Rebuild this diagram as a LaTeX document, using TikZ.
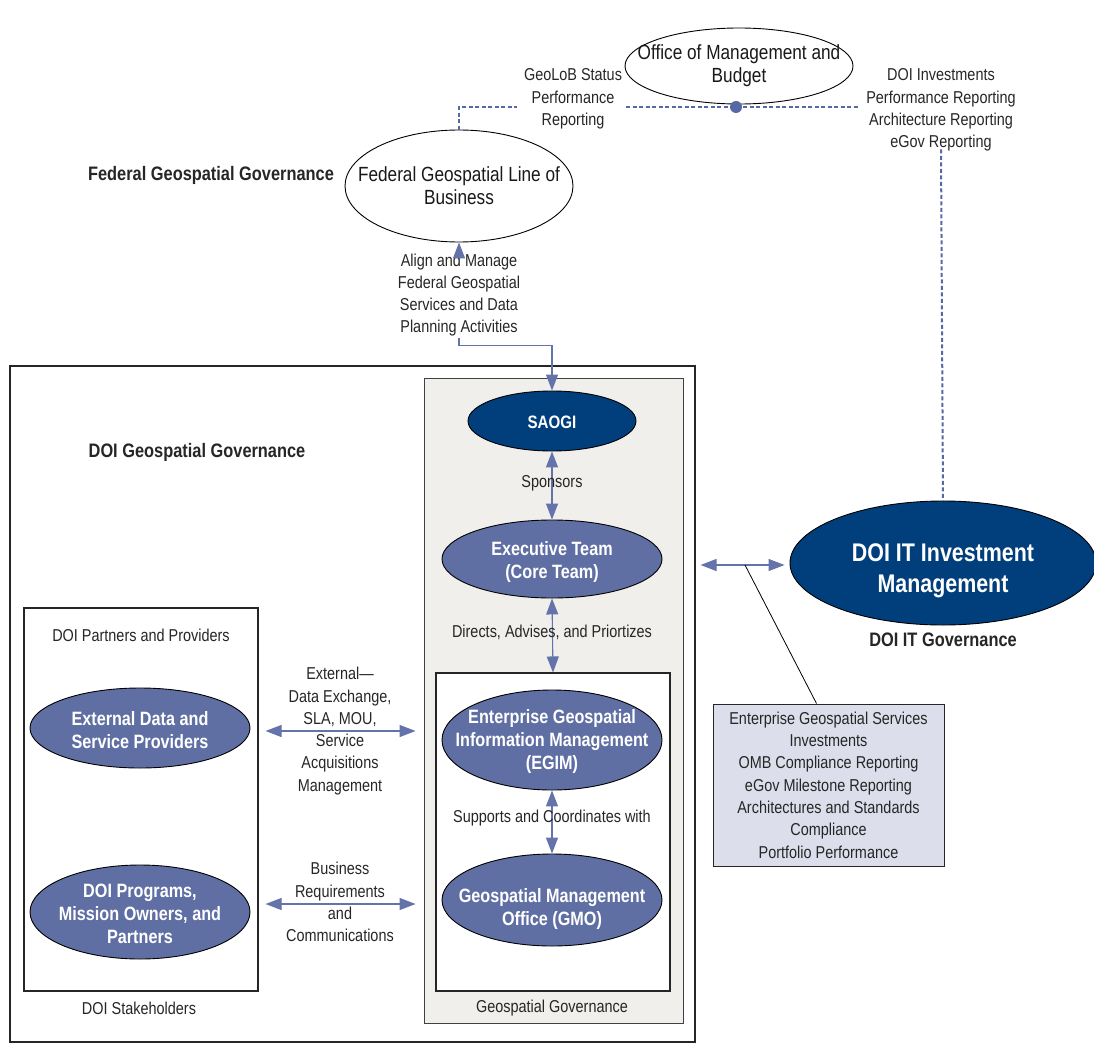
\documentclass[tikz,border=0pt]{standalone}
\usepackage{fontspec}
\setmainfont{Liberation Sans}[FakeStretch=0.84]
\usetikzlibrary{shapes.geometric,arrows.meta}
\definecolor{dkblue}{HTML}{003F7C}
\definecolor{mdblue}{HTML}{5F6FA3}
\definecolor{arblue}{HTML}{6474AA}
\definecolor{dshblue}{HTML}{5668A5}
\definecolor{graybg}{HTML}{F0EFEC}
\definecolor{boxbg}{HTML}{DCDFEB}
\tikzset{
  lbl/.style={align=center,font=\fontsize{17.2}{22.3}\selectfont,inner sep=1pt,text=black!85},
  blbl/.style={align=center,font=\fontsize{19.5}{22}\selectfont\bfseries,inner sep=1pt,text=black!85},
  ell/.style={ellipse,draw=black,line width=0.9pt,inner sep=0pt},
  wtxt/.style={align=center,inner sep=0pt,font=\fontsize{20.5}{23}\selectfont,text=black!90},
  btxt/.style={align=center,inner sep=0pt,text=white,font=\fontsize{19.3}{23}\selectfont\bfseries},
  frame/.style={draw=black!85,line width=1.1pt,inner sep=0pt},
  arr/.style={draw=arblue,line width=1.1pt,-{Triangle[length=16pt,width=12pt]}},
  dbl/.style={draw=arblue,line width=1.1pt,{Triangle[length=16pt,width=12pt]}-{Triangle[length=16pt,width=12pt]}},
  dsh/.style={draw=dshblue,line width=2pt,dash pattern=on 4pt off 2.5pt},
}
\begin{document}
\begin{tikzpicture}[x=1pt,y=-1pt]
\useasboundingbox (0,0) rectangle (1094,1046);
% boxes
\node[frame,minimum width=685,minimum height=676] (doibox) at (352.5,704) {};
\node[frame,fill=graybg,draw=black!75,line width=0.9pt,minimum width=259,minimum height=645] (gray) at (553.5,700.5) {};
\node[frame,fill=white,minimum width=234,minimum height=318] (inner) at (553,832) {};
\node[frame,fill=white,minimum width=234,minimum height=383] (stake) at (141,799.5) {};
% ellipses
\node[ell,fill=white,minimum width=228,minimum height=76] (omb) at (739,66) {};
\node[wtxt] (ombt) at (739,66) {Office of Management and\\Budget};
\node[ell,fill=white,minimum width=228,minimum height=112] (fedlob) at (459,186) {};
\node[wtxt] (fedlobt) at (459,186) {Federal Geospatial Line of\\Business};
\node[ell,fill=dkblue,minimum width=168,minimum height=60] (saogi) at (552,421) {};
\node[btxt,font=\fontsize{18}{23}\selectfont\bfseries] (saogit) at (552,422) {SAOGI};
\node[ell,fill=mdblue,minimum width=220,minimum height=78] (exec) at (552,559) {};
\node[btxt] (exect) at (552,562) {Executive Team\\(Core Team)};
\node[ell,fill=mdblue,minimum width=220,minimum height=100] (egim) at (552,740) {};
\node[btxt] (egimt) at (552,742) {Enterprise Geospatial\\Information Management\\(EGIM)};
\node[ell,fill=mdblue,minimum width=220,minimum height=92] (gmo) at (552,900) {};
\node[btxt] (gmot) at (552,909) {Geospatial Management\\Office (GMO)};
\node[ell,fill=mdblue,minimum width=220,minimum height=80] (ext) at (140,728) {};
\node[btxt] (extt) at (140,730) {External Data and\\Service Providers};
\node[ell,fill=mdblue,minimum width=220,minimum height=94] (prog) at (140,912) {};
\node[btxt] (progt) at (140,914) {DOI Programs,\\Mission Owners, and\\Partners};
\node[ell,fill=dkblue,minimum width=306,minimum height=124] (doiit) at (943,563) {};
\node[btxt,font=\fontsize{25.5}{31}\selectfont\bfseries] (doiitt) at (943,571) {DOI IT Investment\\Management};
% labels
\node[blbl] (fedgov) at (211,175) {Federal Geospatial Governance};
\node[blbl] (doigov) at (197,452) {DOI Geospatial Governance};
\node[blbl] (itgov) at (943,640) {DOI IT Governance};
\node[lbl] (geolob) at (573,99) {GeoLoB Status\\Performance\\Reporting};
\node[lbl] (doiinv) at (941,110) {DOI Investments\\Performance Reporting\\Architecture Reporting\\eGov Reporting};
\node[lbl] (align) at (459,295) {Align and Manage\\Federal Geospatial\\Services and Data\\Planning Activities};
\node[lbl] (partners) at (141,635) {DOI Partners and Providers};
\node[lbl] (stakelbl) at (139,1008) {DOI Stakeholders};
\node[lbl] (geogov) at (552,1008) {Geospatial Governance};
\node[lbl,draw=black!85,line width=1pt,fill=boxbg,minimum width=231,minimum height=162,inner sep=2pt] (egsbox) at (828.5,785) {Enterprise Geospatial Services\\Investments\\OMB Compliance Reporting\\eGov Milestone Reporting\\Architectures and Standards\\Compliance\\Portfolio Performance};
% dashed connectors
\coordinate (dot) at (736,107);
\draw[dsh] (fedlob.north) |- ([xshift=-6]geolob.west |- dot);
\draw[dsh] ([xshift=3]geolob.east |- dot) -- (dot) -- ([xshift=-6]doiinv.west |- dot);
\draw[dsh] ([yshift=3]doiinv.south) -- (doiit.north);
\fill[dshblue] (dot) circle (6);
% solid arrows
\draw[arr] (align.north) -- (fedlob.south);
\draw[arr] (align.south) -- ++(0,8) -| (saogi.north);
\draw[dbl] (saogi.south) -- (exec.north);
\node[lbl] (sponsors) at (552,483) {Sponsors};
\draw[dbl] (exec.south) -- (inner.north);
\node[lbl] (directs) at (552,632) {Directs, Advises, and Priortizes};
\draw[dbl] (egim.south) -- (gmo.north);
\node[lbl] (supports) at (552,818) {Supports and Coordinates with};
\draw[dbl] ([xshift=7]stake.east |- 0,731) -- ([xshift=-8]gray.west |- 0,731);
\node[lbl] (extlbl) at (340,731) {External---\\Data Exchange,\\SLA, MOU,\\Service\\Acquisitions\\Management};
\draw[dbl] ([xshift=7]stake.east |- 0,904) -- ([xshift=-8]gray.west |- 0,904);
\node[lbl] (buslbl) at (340,902) {Business\\Requirements\\and\\Communications};
\draw[dbl] ([xshift=5]doibox.east |- 0,565) -- ([xshift=-5]doiit.west |- 0,565);
\coordinate (mid) at (745,565);
\draw[black,line width=0.8pt] (mid) -- ([xshift=-12]egsbox.north);
\end{tikzpicture}
\end{document}
